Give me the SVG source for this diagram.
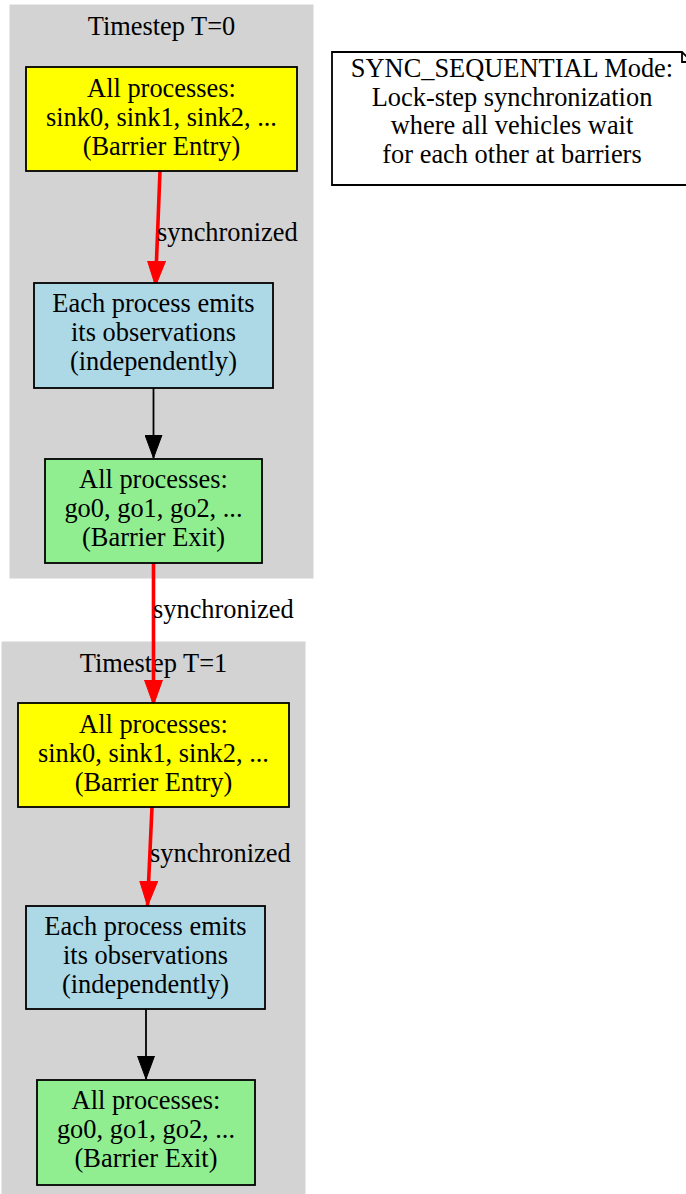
<svg xmlns="http://www.w3.org/2000/svg" width="686" height="1194" viewBox="0 0 686 1194">
<defs>
<style>
text{font-family:"Liberation Serif","Times New Roman",serif;font-size:26.4px;fill:#000;text-anchor:middle}
.lbl{text-anchor:start}
.cluster{fill:#d3d3d3;stroke:#d3d3d3}
.node rect{stroke:#000;stroke-width:1.8}
.entry rect{fill:#ffff00}
.emit rect{fill:#add8e6}
.exit rect{fill:#90ee90}
.red{stroke:#ff0000;stroke-width:3.6;fill:none}
.blk{stroke:#000;stroke-width:1.8;fill:none}
</style>
<marker id="ah-red" markerUnits="userSpaceOnUse" markerWidth="26" markerHeight="20" refX="25" refY="9.5" viewBox="0 0 26 20" orient="auto">
<path d="M0,0.5 L25,9.5 L0,18.5 Z" fill="#ff0000" stroke="#ff0000" stroke-width="1"/>
</marker>
<marker id="ah-blk" markerUnits="userSpaceOnUse" markerWidth="24" markerHeight="18" refX="23" refY="9" viewBox="0 0 24 18" orient="auto">
<path d="M0,0.5 L23,9 L0,17.5 Z" fill="#000" stroke="#000" stroke-width="1"/>
</marker>
</defs>
<g id="cluster_t0">
<rect class="cluster" x="10" y="5" width="303" height="573"/>
<text x="161.5" y="35">Timestep T=0</text>
</g>
<g id="cluster_t1">
<rect class="cluster" x="2" y="642" width="303" height="560"/>
<text x="153.5" y="672">Timestep T=1</text>
</g>
<g id="connectors">
<path class="red" d="M160,171 L155.5,286" marker-end="url(#ah-red)"/>
<text class="lbl" x="157" y="241">synchronized</text>
<path class="blk" d="M153.5,388 L153.5,458" marker-end="url(#ah-blk)"/>
<path class="red" d="M153.5,563 L153.5,705" marker-end="url(#ah-red)"/>
<text class="lbl" x="153" y="618">synchronized</text>
<path class="red" d="M152,807 L147.5,906" marker-end="url(#ah-red)"/>
<text class="lbl" x="150" y="862">synchronized</text>
<path class="blk" d="M146,1009 L146,1079" marker-end="url(#ah-blk)"/>
</g>
<g id="entry_t0" class="node entry">
<rect x="26" y="67" width="271" height="104"/>
<text x="161.5" y="97">All processes:</text>
<text x="161.5" y="126">sink0, sink1, sink2, ...</text>
<text x="161.5" y="155">(Barrier Entry)</text>
</g>
<g id="emit_t0" class="node emit">
<rect x="34" y="283" width="239" height="105"/>
<text x="153.5" y="312">Each process emits</text>
<text x="153.5" y="341">its observations</text>
<text x="153.5" y="370">(independently)</text>
</g>
<g id="exit_t0" class="node exit">
<rect x="45" y="459" width="217" height="104"/>
<text x="153.5" y="488">All processes:</text>
<text x="153.5" y="517">go0, go1, go2, ...</text>
<text x="153.5" y="546">(Barrier Exit)</text>
</g>
<g id="entry_t1" class="node entry">
<rect x="18" y="703" width="271" height="104"/>
<text x="153.5" y="733">All processes:</text>
<text x="153.5" y="762">sink0, sink1, sink2, ...</text>
<text x="153.5" y="791">(Barrier Entry)</text>
</g>
<g id="emit_t1" class="node emit">
<rect x="26" y="906" width="239" height="103"/>
<text x="145.5" y="935">Each process emits</text>
<text x="145.5" y="964">its observations</text>
<text x="145.5" y="993">(independently)</text>
</g>
<g id="exit_t1" class="node exit">
<rect x="37" y="1080" width="218" height="105"/>
<text x="146" y="1109">All processes:</text>
<text x="146" y="1138">go0, go1, go2, ...</text>
<text x="146" y="1167">(Barrier Exit)</text>
</g>
<g id="note">
<path d="M332,52 L682,52 L692,62 L692,185 L332,185 Z" fill="#fff" stroke="#000" stroke-width="1.8"/>
<path d="M682,52 L682,62 L692,62" fill="none" stroke="#000" stroke-width="1.8"/>
<text x="512" y="77">SYNC_SEQUENTIAL Mode:</text>
<text x="512" y="106">Lock-step synchronization</text>
<text x="512" y="134">where all vehicles wait</text>
<text x="512" y="163">for each other at barriers</text>
</g>
</svg>
